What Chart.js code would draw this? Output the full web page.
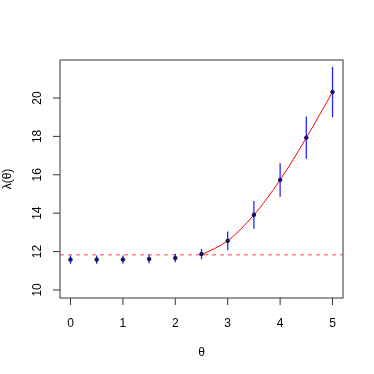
<!DOCTYPE html>
<html>
<head>
<meta charset="utf-8">
<script src="https://cdn.jsdelivr.net/npm/chart.js@4/dist/chart.umd.min.js"></script>
<style>
  html, body { margin: 0; padding: 0; background: #fff; }
  #wrap { width: 374px; height: 374px; }
</style>
</head>
<body>
<div id="wrap"><canvas id="chart" width="374" height="374"></canvas></div>
<script>
// --- data ---
const thetaVals = [0, 0.5, 1, 1.5, 2, 2.5, 3, 3.5, 4, 4.5, 5];
const lambdaVals = [11.58, 11.58, 11.58, 11.61, 11.66, 11.87, 12.56, 13.91, 15.73, 17.93, 20.31];
const errHalf = [0.22, 0.22, 0.22, 0.22, 0.22, 0.27, 0.49, 0.72, 0.87, 1.1, 1.31];

// fitted curve (red), read at the marked thetas
const curveTheta = [2.5, 3, 3.5, 4, 4.5, 5];
const curveLambda = [11.83, 12.56, 13.91, 15.73, 17.93, 20.31];

const baseline = 11.83;
const xTicks = [0, 1, 2, 3, 4, 5];
const yTicks = [10, 12, 14, 16, 18, 20];

const FONT = '12px "Liberation Sans", Arial, sans-serif';

// error bars: one little 2-point line per observation
const errSets = thetaVals.map((t, i) => ({
    type: 'line',
    data: [{ x: t, y: lambdaVals[i] - errHalf[i] }, { x: t, y: lambdaVals[i] + errHalf[i] }],
    borderColor: 'rgba(0,0,255,0.85)',
    borderWidth: 1.3,
    pointRadius: 0,
    showLine: true,
    order: 2
}));

// R style axes, box and labels
const rAxes = {
    id: 'rAxes',
    afterDraw(chart) {
        const ctx = chart.ctx;
        const a = chart.chartArea;
        const xs = chart.scales.x, ys = chart.scales.y;
        ctx.save();
        ctx.strokeStyle = '#333';
        ctx.lineWidth = 1;
        ctx.strokeRect(a.left, a.top, a.right - a.left, a.bottom - a.top);

        ctx.fillStyle = '#000';
        ctx.font = FONT;
        // x ticks
        ctx.beginPath();
        xTicks.forEach(v => {
            const px = xs.getPixelForValue(v);
            ctx.moveTo(px, a.bottom);
            ctx.lineTo(px, a.bottom + 7);
        });
        ctx.stroke();
        ctx.textAlign = 'center';
        ctx.textBaseline = 'alphabetic';
        xTicks.forEach(v => ctx.fillText(String(v), xs.getPixelForValue(v), a.bottom + 29));

        // y ticks
        ctx.beginPath();
        yTicks.forEach(v => {
            const py = ys.getPixelForValue(v);
            ctx.moveTo(a.left, py);
            ctx.lineTo(a.left - 7, py);
        });
        ctx.stroke();
        yTicks.forEach(v => {
            ctx.save();
            ctx.translate(a.left - 19, ys.getPixelForValue(v));
            ctx.rotate(-Math.PI / 2);
            ctx.fillText(String(v), 0, 0);
            ctx.restore();
        });

        // axis titles
        ctx.fillText('θ', (a.left + a.right) / 2, a.bottom + 58);
        ctx.save();
        ctx.translate(11, (a.top + a.bottom) / 2);
        ctx.rotate(-Math.PI / 2);
        ctx.fillText('λ(θ)', 0, 0);
        ctx.restore();
        ctx.restore();
    }
};

new Chart(document.getElementById('chart'), {
    type: 'scatter',
    data: {
        datasets: [
            {
                // horizontal dashed reference line
                type: 'line',
                data: [{ x: -0.2, y: baseline }, { x: 5.2, y: baseline }],
                borderColor: 'rgba(255,0,0,0.6)',
                borderWidth: 1.2,
                borderDash: [4, 4],
                pointRadius: 0,
                order: 4
            },
            {
                type: 'line',
                data: curveTheta.map((t, i) => ({ x: t, y: curveLambda[i] })),
                borderColor: '#ff0000',
                borderWidth: 1,
                pointRadius: 0,
                cubicInterpolationMode: 'monotone',
                order: 3
            },
            ...errSets,
            {
                data: thetaVals.map((t, i) => ({ x: t, y: lambdaVals[i] })),
                backgroundColor: '#14145a',
                borderColor: '#14145a',
                pointRadius: 1.8,
                order: 1
            }
        ]
    },
    options: {
        responsive: false,
        animation: false,
        layout: { padding: { left: 60, top: 60, right: 31, bottom: 76 } },
        plugins: { legend: { display: false }, tooltip: { enabled: false } },
        scales: {
            x: { type: 'linear', min: -0.2, max: 5.2, display: false },
            y: { type: 'linear', min: 9.58, max: 21.98, display: false }
        }
    },
    plugins: [rAxes]
});
</script>
</body>
</html>
